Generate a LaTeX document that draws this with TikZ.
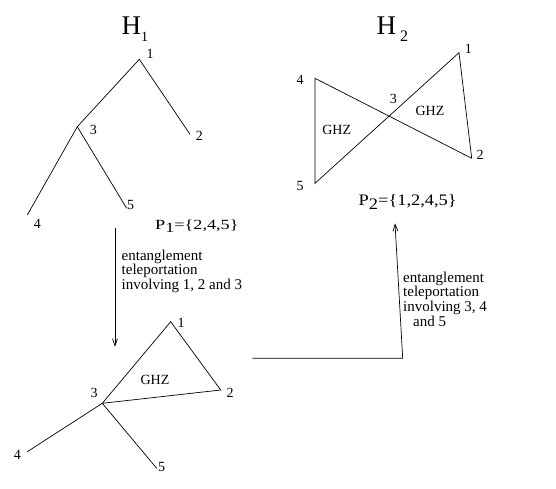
\documentclass[tikz,border=0pt]{standalone}
\usepackage{fontspec}
\setmainfont{Liberation Serif}
\usetikzlibrary{arrows.meta}
\begin{document}
\begin{tikzpicture}[x=1pt,y=-1pt,
  ln/.style={line width=0.7pt},
  lbl/.style={inner sep=0pt,font=\fontsize{14}{14}\selectfont},
  ghz/.style={inner sep=0pt,font=\fontsize{14}{14}\selectfont},
  ttl/.style={inner sep=0pt,anchor=base west},
  pset/.style={inner sep=0pt,anchor=base west},
  note/.style={inner sep=0pt,anchor=north west,align=left,font=\fontsize{15}{11.7}\selectfont},
  arr/.style={ln,-{Straight Barb[length=7pt,width=5pt]}}]
\useasboundingbox (0,0) rectangle (556,488);
% titles
\node[ttl] (h1) at (121.5,34) {\fontsize{27}{27}\selectfont H\raisebox{-7.5pt}{\fontsize{14}{14}\selectfont 1}};
\node[ttl] (h2) at (376.5,34) {\fontsize{27}{27}\selectfont H\hspace{4pt}\raisebox{-7.5pt}{\fontsize{16}{16}\selectfont 2}};
% H1 tree
\coordinate (a1) at (139.3,59.3);
\coordinate (a3) at (77.3,126.7);
\coordinate (a2) at (190,134.3);
\coordinate (a4) at (27.3,215);
\coordinate (a5) at (126.7,208.3);
\draw[ln] (a2) -- (a1) -- (a3) -- (a4);
\draw[ln] (a3) -- (a5);
\node[lbl] (la1) at (150,54) {1};
\node[lbl] (la3) at (93.3,130) {3};
\node[lbl] (la2) at (199.3,136) {2};
\node[lbl] (la4) at (37.3,224) {4};
\node[lbl] (la5) at (130.7,205) {5};
\node[pset] (p1) at (155,229.3) {\scalebox{1.3}[1]{\fontsize{14}{14}\selectfont P\raisebox{-3.5pt}{1}=\{2,4,5\}}};
% H2 bowtie
\coordinate (b4) at (315,78.3);
\coordinate (b5) at (315,183.3);
\coordinate (b1) at (459,52.7);
\coordinate (b2) at (471.7,158.3);
\draw[ln] (b4) -- (b5) -- (b1) -- (b2) -- cycle;
\node[lbl] (lb3) at (393.3,99) {3};
\node[lbl] (lb1) at (468.3,49.3) {1};
\node[lbl] (lb2) at (480,155) {2};
\node[lbl] (lb4) at (300,80) {4};
\node[lbl] (lb5) at (300,186) {5};
\node[ghz] (g1) at (336.7,130) {GHZ};
\node[ghz] (g2) at (430,111) {GHZ};
\node[pset] (p2) at (358.5,205.5) {\scalebox{1.15}[1]{\fontsize{16}{16}\selectfont P\raisebox{-4pt}{2}=\{1,2,4,5\}}};
% bottom graph
\coordinate (c1) at (170.7,321.7);
\coordinate (c2) at (220.7,390);
\coordinate (c3) at (102.3,403.3);
\coordinate (c4) at (27.3,451.7);
\coordinate (c5) at (156.7,468.3);
\draw[ln] (c3) -- (c1) -- (c2) -- cycle;
\draw[ln] (c4) -- (c3) -- (c5);
\node[lbl] (lc1) at (181,323.3) {1};
\node[lbl] (lc2) at (230,392.7) {2};
\node[lbl] (lc3) at (94,392.7) {3};
\node[lbl] (lc4) at (17.3,455) {4};
\node[lbl] (lc5) at (161.7,466.7) {5};
\node[ghz] (g3) at (155,380) {GHZ};
% arrows
\coordinate (s1) at (115,227.7);
\coordinate (e1) at (115,346.7);
\draw[arr] (s1) -- (e1);
\node[note] (t1) at (121.5,249.5) {entanglement\\teleportation\\involving 1, 2 and 3};
\coordinate (s2) at (252.3,358.3);
\coordinate (k2) at (402.7,358.3);
\coordinate (e2) at (395,223.3);
\draw[arr] (s2) -- (k2) -- (e2);
\node[note] (t2) at (403,271.5) {entanglement\\teleportation\\involving 3, 4\\\hspace{10pt}and 5};
\end{tikzpicture}
\end{document}
